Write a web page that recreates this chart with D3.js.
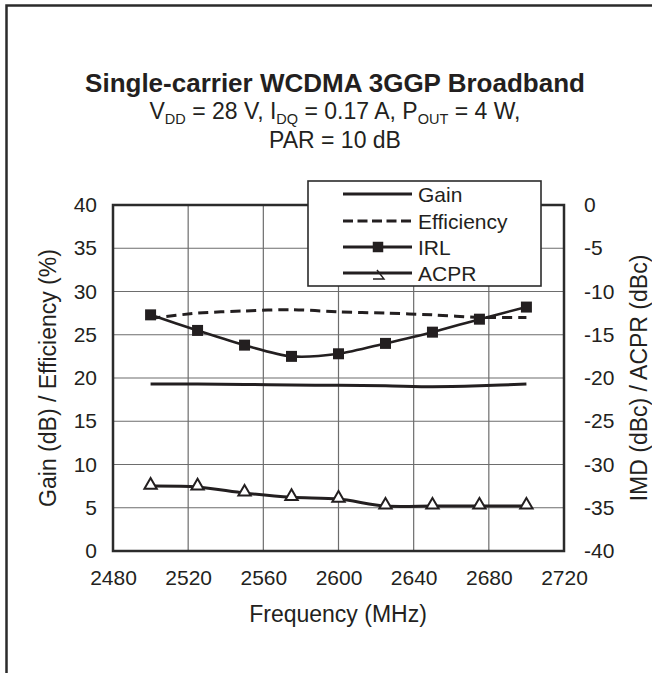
<!DOCTYPE html>
<html>
<head>
<meta charset="utf-8">
<script src="https://cdn.jsdelivr.net/npm/d3@7"></script>
<style>
  html, body { margin: 0; padding: 0; background: #fff; }
  svg { display: block; }
  text { font-family: "Liberation Sans", Arial, Helvetica, sans-serif; fill: #231f20; }
</style>
</head>
<body>
<svg id="chart" width="652" height="673"></svg>
<script>
// ---- data ----
const freq = [2500, 2525, 2550, 2575, 2600, 2625, 2650, 2675, 2700];
const gain = [19.3, 19.3, 19.25, 19.2, 19.15, 19.1, 19.0, 19.1, 19.3];
const efficiency = [26.9, 27.5, 27.75, 27.9, 27.65, 27.5, 27.3, 27.0, 27.0];
const irl = [-12.7, -14.5, -16.2, -17.5, -17.2, -16.0, -14.7, -13.2, -11.8];
const acpr = [-32.5, -32.6, -33.3, -33.8, -34.0, -34.8, -34.8, -34.8, -34.8];
const xTicks = [2480, 2520, 2560, 2600, 2640, 2680, 2720];
const leftTicks = [0, 5, 10, 15, 20, 25, 30, 35, 40];
const rightTicks = [-40, -35, -30, -25, -20, -15, -10, -5, 0];
const legendLabels = ["Gain", "Efficiency", "IRL", "ACPR"];

// ---- layout ----
const svg = d3.select("#chart");
const L = 113, R = 564, T = 205, B = 551;
const x = d3.scaleLinear().domain([2480, 2720]).range([L, R]);
const yL = d3.scaleLinear().domain([0, 40]).range([B, T]);
const yR = d3.scaleLinear().domain([-40, 0]).range([B, T]);
const ink = "#231f20";

// outer frame (partially cropped)
svg.append("path")
  .attr("d", "M6.5,700 L6.5,5.5 L700,5.5")
  .attr("fill", "none").attr("stroke", "#2b2b2b").attr("stroke-width", 2.5);

// titles
svg.append("text").attr("x", 335).attr("y", 92).attr("text-anchor", "middle")
  .attr("font-size", 26).attr("font-weight", "bold")
  .text("Single-carrier WCDMA 3GGP Broadband");

const sub = svg.append("text").attr("x", 335).attr("y", 119).attr("text-anchor", "middle")
  .attr("font-size", 23);
const parts = [["V", 0], ["DD", 1], [" = 28 V, I", 0], ["DQ", 1], [" = 0.17 A, P", 0], ["OUT", 1], [" = 4 W,", 0]];
let prevSub = 0;
parts.forEach(([t, s]) => {
  const dy = (s - prevSub) * 4.5;
  sub.append("tspan").attr("dy", dy).attr("font-size", s ? 14.5 : 23).text(t);
  prevSub = s;
});
svg.append("text").attr("x", 335).attr("y", 148).attr("text-anchor", "middle")
  .attr("font-size", 23).text("PAR = 10 dB");

// grid
const g = svg.append("g");
g.selectAll(".hg").data(leftTicks.slice(1, -1)).join("line")
  .attr("x1", L).attr("x2", R).attr("y1", d => yL(d)).attr("y2", d => yL(d))
  .attr("stroke", "#6d6d6d").attr("stroke-width", 1.2);
g.selectAll(".vg").data(xTicks.slice(1, -1)).join("line")
  .attr("y1", T).attr("y2", B).attr("x1", d => x(d)).attr("x2", d => x(d))
  .attr("stroke", "#6d6d6d").attr("stroke-width", 1.2);

// axes (labels only)
const fmt = d => String(d);
const axL = d3.axisLeft(yL).tickValues(leftTicks).tickSize(0).tickPadding(16).tickFormat(fmt);
const axR = d3.axisRight(yR).tickValues(rightTicks).tickSize(0).tickPadding(20).tickFormat(fmt);
const axB = d3.axisBottom(x).tickValues(xTicks).tickSize(0).tickPadding(19).tickFormat(fmt);
function styleAxis(sel) {
  sel.select(".domain").remove();
  sel.selectAll("text").attr("font-size", 21).attr("fill", ink)
    .style("font-family", '"Liberation Sans", Arial, sans-serif');
}
svg.append("g").attr("transform", `translate(${L},0)`).call(axL).call(styleAxis);
svg.append("g").attr("transform", `translate(${R},0)`).call(axR).call(styleAxis);
svg.append("g").attr("transform", `translate(0,${B})`).call(axB).call(styleAxis);

// axis titles
svg.append("text").attr("transform", "translate(56,378) rotate(-90)").attr("text-anchor", "middle")
  .attr("font-size", 23).text("Gain (dB) / Efficiency (%)");
svg.append("text").attr("transform", "translate(647,378) rotate(-90)").attr("text-anchor", "middle")
  .attr("font-size", 23).text("IMD (dBc) / ACPR (dBc)");
svg.append("text").attr("x", 338).attr("y", 622).attr("text-anchor", "middle")
  .attr("font-size", 23).text("Frequency (MHz)");

// series
const curve = d3.curveCardinal.tension(0.2);
const lineL = d3.line().x((d, i) => x(freq[i])).y(d => yL(d)).curve(curve);
const lineR = d3.line().x((d, i) => x(freq[i])).y(d => yR(d)).curve(curve);

svg.append("path").attr("d", lineL(gain)).attr("fill", "none").attr("stroke", ink).attr("stroke-width", 3);
svg.append("path").attr("d", lineL(efficiency)).attr("fill", "none").attr("stroke", ink)
  .attr("stroke-width", 3).attr("stroke-dasharray", "10,6");
svg.append("path").attr("d", lineR(irl)).attr("fill", "none").attr("stroke", ink).attr("stroke-width", 2.6);
svg.append("path").attr("d", lineR(acpr)).attr("fill", "none").attr("stroke", ink).attr("stroke-width", 3);

const sq = d3.symbol().type(d3.symbolSquare).size(121);
svg.selectAll(".irlm").data(irl).join("path")
  .attr("transform", (d, i) => `translate(${x(freq[i])},${yR(d)})`)
  .attr("d", sq()).attr("fill", ink);

const tri = d3.symbol().type(d3.symbolTriangle).size(66);
svg.selectAll(".acm").data(acpr).join("path")
  .attr("transform", (d, i) => `translate(${x(freq[i])},${yR(d) - 1})`)
  .attr("d", tri()).attr("fill", "#fff").attr("stroke", ink).attr("stroke-width", 2);

// plot border
svg.append("rect").attr("x", L).attr("y", T).attr("width", R - L).attr("height", B - T)
  .attr("fill", "none").attr("stroke", "#2b2b2b").attr("stroke-width", 2.5);

// legend
const lg = svg.append("g");
lg.append("rect").attr("x", 308).attr("y", 181).attr("width", 233).attr("height", 105)
  .attr("fill", "#fff").attr("stroke", "#2b2b2b").attr("stroke-width", 1.6);
const rowY = [194, 221, 247, 273];
legendLabels.forEach((lab, i) => {
  const yy = rowY[i];
  const ln = lg.append("line").attr("x1", 343).attr("x2", 412).attr("y1", yy).attr("y2", yy)
    .attr("stroke", ink).attr("stroke-width", 3);
  if (i === 1) ln.attr("stroke-dasharray", "10,4.5");
  lg.append("text").attr("x", 418).attr("y", yy + 7.5).attr("font-size", 21).text(lab);
});
lg.append("path").attr("transform", `translate(378,${rowY[2]})`).attr("d", d3.symbol().type(d3.symbolSquare).size(110)()).attr("fill", ink);
lg.append("path").attr("d", `M373,${rowY[3] + 6} L384,${rowY[3] + 6} L377,${rowY[3] - 3}`)
  .attr("fill", "none").attr("stroke", ink).attr("stroke-width", 1.4);
</script>
</body>
</html>
